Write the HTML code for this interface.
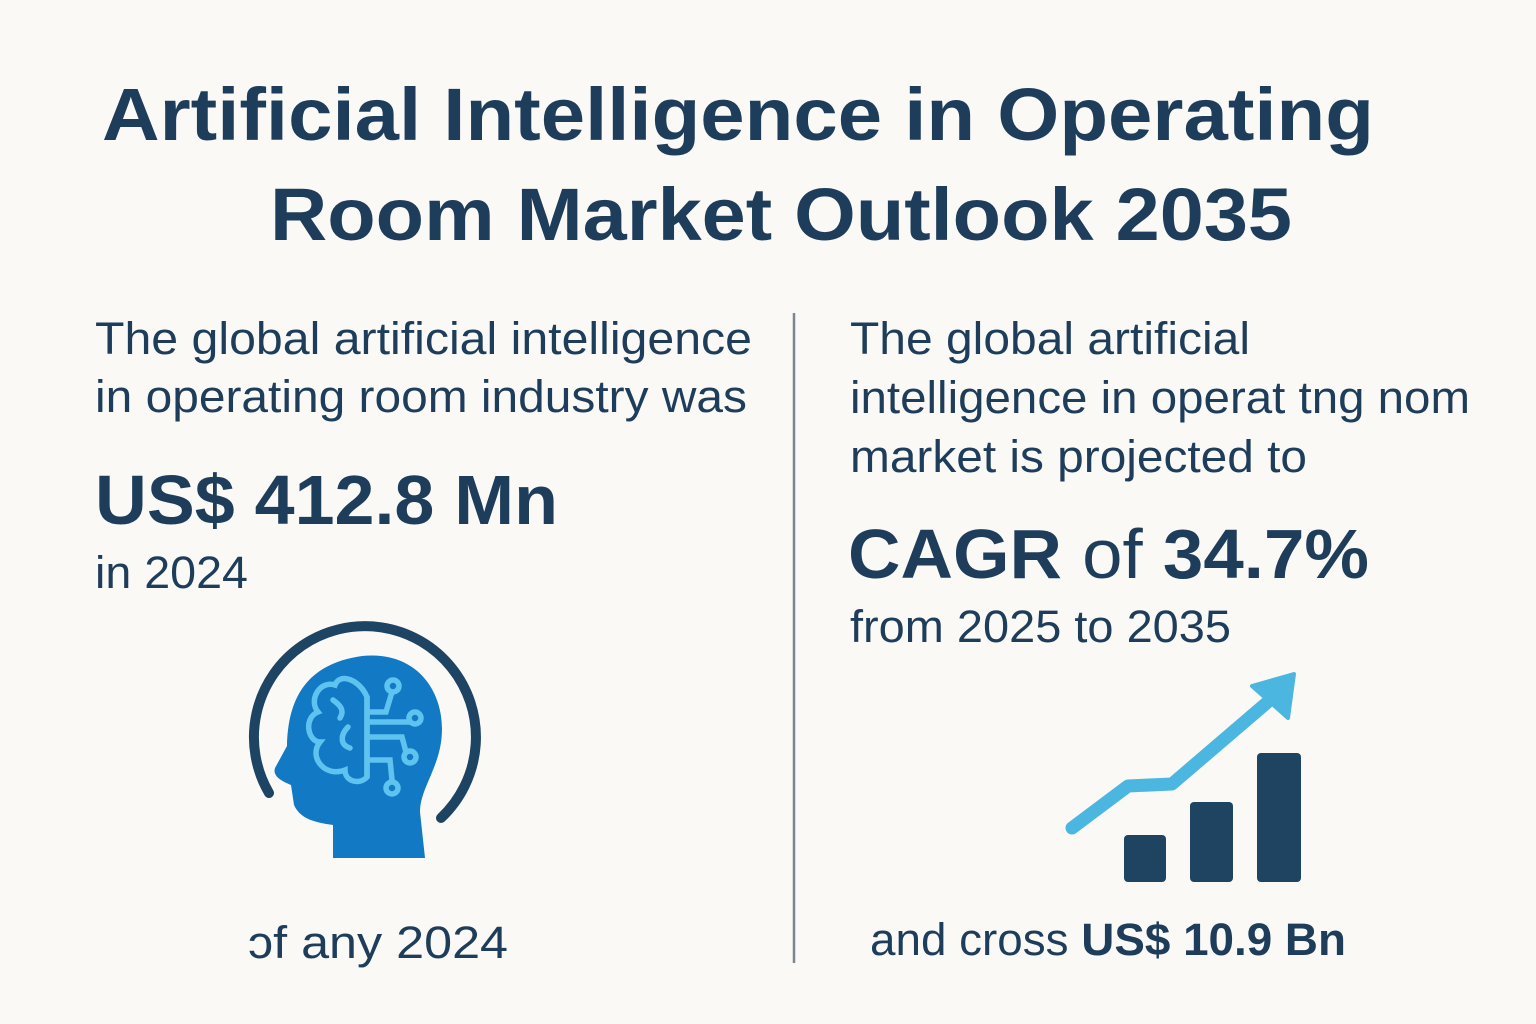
<!DOCTYPE html>
<html><head><meta charset="utf-8"><style>
html,body{margin:0;padding:0;background:#faf9f6;}
svg{display:block}
text{font-family:"Liberation Sans",Arial,sans-serif;fill:#1e3d5a}
</style></head><body>
<svg width="1536" height="1024" viewBox="0 0 1536 1024">
<rect width="1536" height="1024" fill="#faf9f6"/>
<text x="102" y="140" font-size="74" font-weight="bold" textLength="1272" lengthAdjust="spacingAndGlyphs">Artificial Intelligence in Operating</text>
<text x="270" y="240" font-size="74" font-weight="bold" textLength="1022" lengthAdjust="spacingAndGlyphs">Room Market Outlook 2035</text>

<text x="95" y="354" font-size="45" textLength="657" lengthAdjust="spacingAndGlyphs">The global artificial intelligence</text>
<text x="95" y="412" font-size="45" textLength="652" lengthAdjust="spacingAndGlyphs">in operating room industry was</text>
<text x="95" y="524" font-size="70" font-weight="bold" textLength="463" lengthAdjust="spacingAndGlyphs">US$ 412.8 Mn</text>
<text x="95" y="588" font-size="45" textLength="153" lengthAdjust="spacingAndGlyphs">in 2024</text>

<line x1="794" y1="313" x2="794" y2="963" stroke="#7a8792" stroke-width="2.5"/>

<text x="850" y="354" font-size="45" textLength="400" lengthAdjust="spacingAndGlyphs">The global artificial</text>
<text x="850" y="413" font-size="45" textLength="620" lengthAdjust="spacingAndGlyphs">intelligence in operat tng nom</text>
<text x="850" y="472" font-size="45" textLength="457" lengthAdjust="spacingAndGlyphs">market is projected to</text>
<text x="848" y="578" font-size="70" textLength="521" lengthAdjust="spacingAndGlyphs"><tspan font-weight="bold">CAGR</tspan> of <tspan font-weight="bold">34.7%</tspan></text>
<text x="850" y="642" font-size="45" textLength="381" lengthAdjust="spacingAndGlyphs">from 2025 to 2035</text>

<text x="248" y="958" font-size="45" textLength="260" lengthAdjust="spacingAndGlyphs">ɔf any 2024</text>
<text x="870" y="955" font-size="45" textLength="476" lengthAdjust="spacingAndGlyphs">and cross <tspan font-weight="bold">US$ 10.9 Bn</tspan></text>

<!-- head icon -->
<path d="M269,793 A111,111 0 1 1 441,818" fill="none" stroke="#1e4463" stroke-width="10" stroke-linecap="round"/>
<path d="M333,858 L333,825 C312,822 300,818 294,805 L291,785 C284,782 272,777 275,768 L287,746 C288,700 305,664 362,656 C422,650 450,700 440,748 C434,775 420,792 420,812 L425,858 Z" fill="#1279c4"/>
<g fill="none" stroke="#5ec3ee" stroke-width="5.5" stroke-linecap="round">
<path d="M367,697 C360,680 340,672 335,685 C320,680 308,700 318,712 C303,718 308,742 320,742 C308,757 325,778 345,770 C345,782 360,785 367,777 Z"/>
<path d="M333,700 C340,705 345,710 340,718"/>
<path d="M348,727 C340,735 340,745 350,748"/>
<line x1="367" y1="697" x2="367" y2="777"/>
<path d="M367,712 L386,712 L392,692"/><circle cx="393" cy="686" r="6"/>
<path d="M367,722 L410,722"/><circle cx="415" cy="718" r="6"/>
<path d="M367,737 L402,737 L406,752"/><circle cx="410" cy="757" r="6"/>
<path d="M367,760 L390,760 L392,780"/><circle cx="392" cy="788" r="6"/>
</g>
<!-- chart icon -->
<rect x="1124" y="835" width="42" height="47" rx="4" fill="#1f4461"/>
<rect x="1190" y="802" width="43" height="80" rx="4" fill="#1f4461"/>
<rect x="1257" y="753" width="44" height="129" rx="4" fill="#1f4461"/>
<polyline points="1072,828 1128,786 1172,784 1270,700" fill="none" stroke="#4bb6df" stroke-width="13" stroke-linecap="round" stroke-linejoin="round"/>
<polygon points="1252,686 1294,674 1288,718" fill="#4bb6df" stroke="#4bb6df" stroke-width="4" stroke-linejoin="round"/>
</svg>
</body></html>
